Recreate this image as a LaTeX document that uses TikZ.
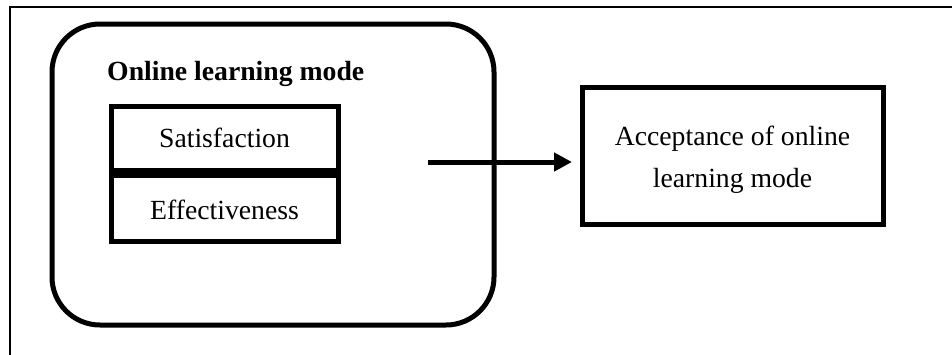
\documentclass[tikz,border=0pt]{standalone}
\usepackage{fontspec}
\setmainfont{Liberation Serif}
\usetikzlibrary{arrows.meta,calc}
\begin{document}
\begin{tikzpicture}[x=1pt,y=1pt,
  txt/.style={font=\fontsize{27.7}{41.5}\selectfont, inner sep=0pt},
  thick box/.style={draw=black, line width=5pt, inner sep=0pt},
  framebox/.style={draw=black, line width=1.6pt}]
\useasboundingbox (0,0) rectangle (952,-354);
% outer frame (left and top edges visible)
\coordinate (f0) at (10,-360);
\coordinate (f1) at (10,-7);
\coordinate (f2) at (960,-7);
\draw[framebox] (f0) -- (f1) -- (f2);
% rounded container
\node[thick box, rounded corners=48pt, minimum width=442pt, minimum height=301pt] (outer) at (273,-174.5) {};
\node[txt, font=\fontsize{27.7}{41.5}\selectfont\bfseries, anchor=base west] (title) at (107,-80) {Online learning mode};
\node[thick box, minimum width=227pt, minimum height=64pt] (sat) at (224.5,-138) {};
\node[txt] (sattext) at ($(sat.center)+(0,0)$) {Satisfaction};
\node[thick box, minimum width=227pt, minimum height=66pt] (eff) at (224.5,-208.5) {};
\node[txt] (efftext) at ($(eff.center)+(0,-1)$) {Effectiveness};
% acceptance box
\node[thick box, minimum width=301pt, minimum height=137pt] (acc) at (732.5,-155.5) {};
\node[txt, align=center] (acctext) at ($(acc.center)+(0,-4)$) {Acceptance of online\\learning mode};
% arrow
\coordinate (a0) at (428,-162);
\coordinate (a1) at (572,-162);
\draw[line width=5pt, -{Triangle[length=18pt,width=18pt]}] (a0) -- (a1);
\end{tikzpicture}
\end{document}
